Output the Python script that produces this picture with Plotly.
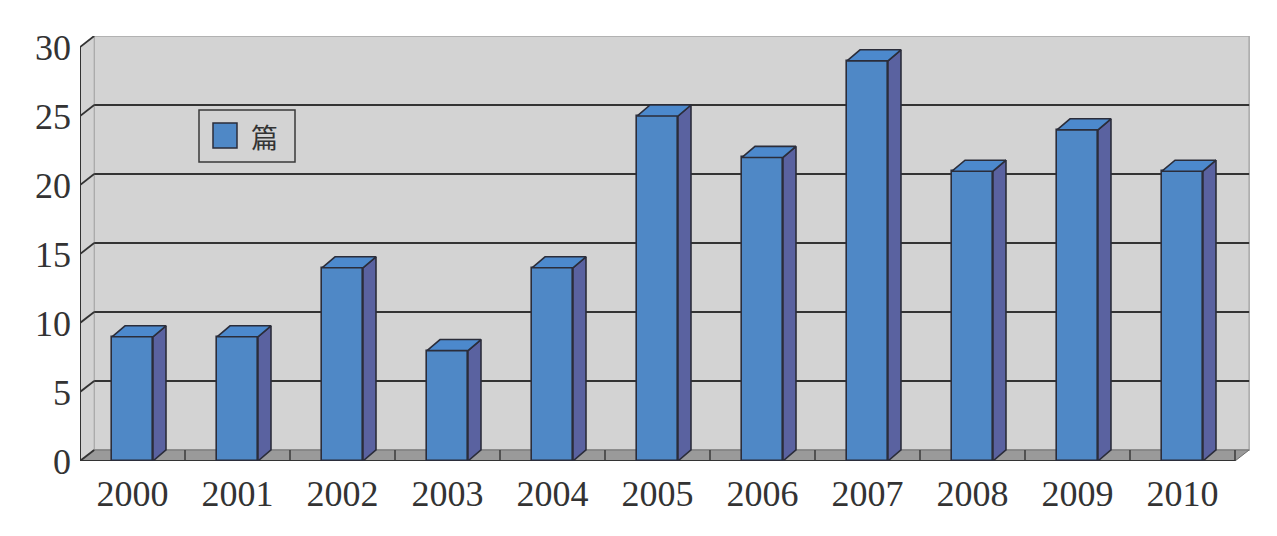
import plotly.graph_objects as go

# ---- data ----
years = ["2000", "2001", "2002", "2003", "2004", "2005", "2006", "2007", "2008", "2009", "2010"]
counts = [9, 9, 14, 8, 14, 25, 22, 29, 21, 24, 21]
y_ticks = [0, 5, 10, 15, 20, 25, 30]
series_name = "篇"

# ---- style / geometry constants ----
OFF = 8                        # default page body margin
W, H = 1277 - 2 * OFF, 536 - 2 * OFF
ML, MT = 80 - OFF, 36 - OFF
MB = H - (461 - OFF)
MR = W - (1250 - OFF)
Y_MAX = 30
DX, DY = 0.135, 0.8          # wall depth offset (data units)
BDX, BDY = 0.124, 0.8        # bar depth offset
BAR_W = 0.39
FRONT = "#4f88c6"
SIDE = "#5a62a0"
TOP = "#4c89cd"
EDGE = "#2b2d3a"
WALL = "#d3d3d3"
FLOOR = "#9a9a9a"
GRID = "#333333"
FONT = "Liberation Serif"

n = len(years)
xs = list(range(n))
x0, x1 = -0.5, n - 0.5

fig = go.Figure()

# front faces
fig.add_trace(go.Bar(
    x=xs, y=counts, width=BAR_W,
    marker=dict(color=FRONT, line=dict(color=EDGE, width=1.6)),
    hoverinfo="skip", showlegend=False,
))

# side faces and top faces
sx, sy, tx, ty = [], [], [], []
for i, v in zip(xs, counts):
    r = i + BAR_W / 2
    l = i - BAR_W / 2
    sx += [r, r + BDX, r + BDX, r, r, None]
    sy += [0, BDY, v + BDY, v, 0, None]
    tx += [l, r, r + BDX, l + BDX, l, None]
    ty += [v, v, v + BDY, v + BDY, v, None]
fig.add_trace(go.Scatter(x=sx, y=sy, mode="lines", fill="toself", fillcolor=SIDE,
                         line=dict(color=EDGE, width=1.6), hoverinfo="skip", showlegend=False))
fig.add_trace(go.Scatter(x=tx, y=ty, mode="lines", fill="toself", fillcolor=TOP,
                         line=dict(color=EDGE, width=1.6), hoverinfo="skip", showlegend=False))

shapes = []
# back wall
shapes.append(dict(type="rect", xref="x", yref="y", x0=x0 + DX, x1=x1 + DX, y0=DY, y1=Y_MAX + DY,
                   fillcolor=WALL, line=dict(color="#a8a8a8", width=1.5), layer="below"))
# side wall
shapes.append(dict(type="path", xref="x", yref="y",
                   path=f"M{x0},0 L{x0},{Y_MAX} L{x0+DX},{Y_MAX+DY} L{x0+DX},{DY} Z",
                   fillcolor=WALL, line=dict(color="#a8a8a8", width=1), layer="below"))
# floor
shapes.append(dict(type="path", xref="x", yref="y",
                   path=f"M{x0},0 L{x1},0 L{x1+DX},{DY} L{x0+DX},{DY} Z",
                   fillcolor=FLOOR, line=dict(color="#6e6e6e", width=1), layer="below"))
# grid lines on back wall + perspective ticks on side wall
for t in y_ticks:
    if 0 < t < Y_MAX:
        shapes.append(dict(type="line", xref="x", yref="y", x0=x0 + DX, x1=x1 + DX, y0=t + DY, y1=t + DY,
                           line=dict(color=GRID, width=2), layer="below"))
    shapes.append(dict(type="line", xref="x", yref="y", x0=x0, x1=x0 + DX, y0=t, y1=t + DY,
                       line=dict(color=GRID, width=1.8), layer="below"))
# category ticks on floor
for i in range(n + 1):
    xb = x0 + i
    shapes.append(dict(type="line", xref="x", yref="y", x0=xb, x1=xb, y0=0, y1=DY,
                       line=dict(color="#3a3a3a", width=1.5), layer="below"))
# front axis lines
shapes.append(dict(type="line", xref="x", yref="y", x0=x0, x1=x0, y0=0, y1=Y_MAX,
                   line=dict(color=GRID, width=2)))
shapes.append(dict(type="line", xref="x", yref="y", x0=x0, x1=x1, y0=0, y1=0,
                   line=dict(color=GRID, width=2), layer="below"))

# manual legend box (positions given in page pixels)
pw, ph = W - ML - MR, H - MT - MB
def px2paper_x(p): return (p - OFF - ML) / pw
def px2paper_y(p): return (H - MB - (p - OFF)) / ph
shapes.append(dict(type="rect", xref="paper", yref="paper",
                   x0=px2paper_x(199), x1=px2paper_x(295), y0=px2paper_y(162), y1=px2paper_y(110),
                   fillcolor=WALL, line=dict(color="#3a3a3a", width=1.5)))
shapes.append(dict(type="rect", xref="paper", yref="paper",
                   x0=px2paper_x(213), x1=px2paper_x(237), y0=px2paper_y(148), y1=px2paper_y(123),
                   fillcolor=FRONT, line=dict(color=EDGE, width=1.5)))

annotations = [dict(text=series_name, xref="paper", yref="paper", x=px2paper_x(264), y=px2paper_y(136),
                    showarrow=False, xanchor="center", yanchor="middle",
                    font=dict(family="Noto Sans CJK SC", size=27, color="#333333"))]

fig.update_layout(
    width=W, height=H,
    margin=dict(l=ML, r=MR, t=MT, b=MB, autoexpand=False),
    paper_bgcolor="white", plot_bgcolor="white",
    shapes=shapes, annotations=annotations,
    showlegend=False, bargap=0,
    xaxis=dict(range=[x0, x1 + DX + 0.008], tickmode="array", tickvals=xs, ticktext=years,
               showgrid=False, zeroline=False, showline=False, ticks="", automargin=False,
               tickfont=dict(family=FONT, size=36, color="#333333"), ticklabelstandoff=8,
               fixedrange=True),
    yaxis=dict(range=[0, Y_MAX + DY], tickmode="array", tickvals=y_ticks, automargin=False,
               showgrid=False, zeroline=False, showline=False, ticks="",
               tickfont=dict(family=FONT, size=36, color="#333333"), ticklabelstandoff=8,
               fixedrange=True),
)

fig.write_html("out.html")
